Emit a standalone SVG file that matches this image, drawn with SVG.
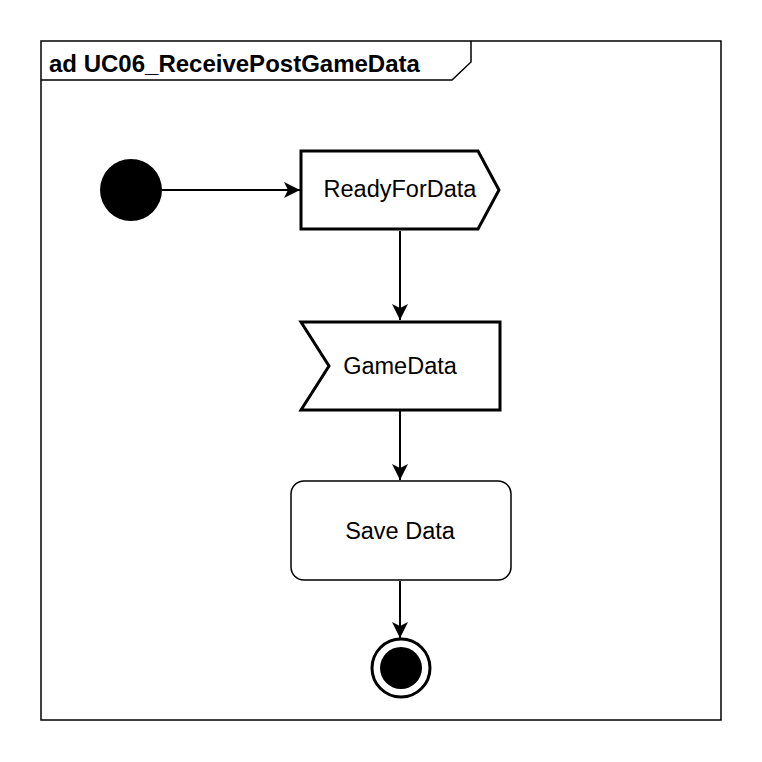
<svg xmlns="http://www.w3.org/2000/svg" width="762" height="762" viewBox="0 0 762 762">
<style>
text{font-family:"Liberation Sans",Arial,sans-serif;fill:#000}
.lbl{font-size:23.5px;text-anchor:middle}
.edge{stroke:#000;stroke-width:2;fill:none}
</style>
<defs>
<marker id="arr" viewBox="0 0 16 16" refX="16" refY="8" markerWidth="16" markerHeight="16" markerUnits="userSpaceOnUse" orient="auto">
<path d="M0,0 L16,8 L0,16 L4,8 Z" fill="#000"/>
</marker>
</defs>
<rect width="762" height="762" fill="#fff"/>
<g id="frame">
<rect x="41" y="41" width="680" height="679" fill="none" stroke="#000" stroke-width="1.5"/>
<path d="M41,80 L452,80 L471,62 L471,41" fill="none" stroke="#000" stroke-width="1.5"/>
<text x="49" y="72" font-size="24" font-weight="bold">ad UC06_ReceivePostGameData</text>
</g>
<g id="connectors">
<line class="edge" x1="162" y1="190" x2="300" y2="190" marker-end="url(#arr)"/>
<line class="edge" x1="400" y1="231" x2="400" y2="320" marker-end="url(#arr)"/>
<line class="edge" x1="400" y1="411" x2="400" y2="480" marker-end="url(#arr)"/>
<line class="edge" x1="400" y1="581" x2="400" y2="638" marker-end="url(#arr)"/>
</g>
<g id="initial">
<circle cx="131" cy="190" r="31" fill="#000"/>
</g>
<g id="readyForData">
<path d="M301,151 L478,151 L499,190 L478,229 L301,229 Z" fill="#fff" stroke="#000" stroke-width="3"/>
<text class="lbl" x="400" y="197">ReadyForData</text>
</g>
<g id="gameData">
<path d="M301,322 L500,322 L500,410 L301,410 L329,366 Z" fill="#fff" stroke="#000" stroke-width="3"/>
<text class="lbl" x="400" y="374">GameData</text>
</g>
<g id="saveData">
<rect x="291" y="481" width="220" height="99" rx="13" fill="#fff" stroke="#000" stroke-width="1.5"/>
<text class="lbl" x="400" y="539">Save Data</text>
</g>
<g id="final">
<circle cx="401" cy="668" r="29" fill="#fff" stroke="#000" stroke-width="3"/>
<circle cx="401" cy="668" r="21" fill="#000"/>
</g>
</svg>
